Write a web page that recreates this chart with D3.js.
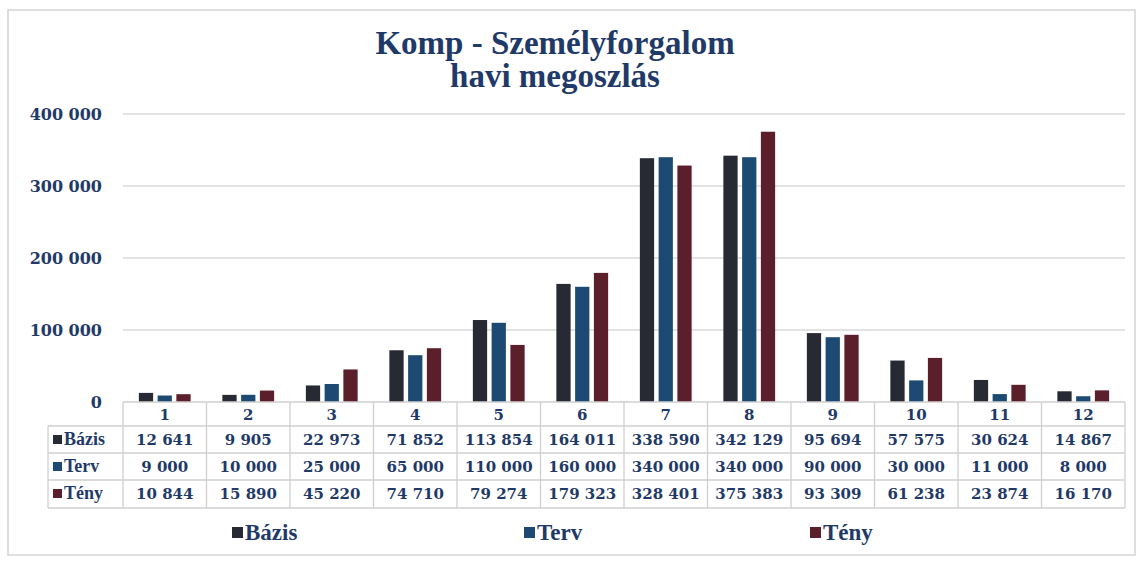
<!DOCTYPE html>
<html>
<head>
<meta charset="utf-8">
<script src="https://cdn.jsdelivr.net/npm/d3@7"></script>
<style>
  body { margin: 0; background: #fff; }
  svg text { font-family: "Liberation Serif", "Times New Roman", serif; }
  .num { font-family: "DejaVu Serif", serif !important; }
</style>
</head>
<body>
<div id="chart"></div>
<script>
const months = ['1', '2', '3', '4', '5', '6', '7', '8', '9', '10', '11', '12'];
const seriesNames = ['Bázis', 'Terv', 'Tény'];
const bazis = [12641, 9905, 22973, 71852, 113854, 164011, 338590, 342129, 95694, 57575, 30624, 14867];
const terv  = [9000, 10000, 25000, 65000, 110000, 160000, 340000, 340000, 90000, 30000, 11000, 8000];
const teny  = [10844, 15890, 45220, 74710, 79274, 179323, 328401, 375383, 93309, 61238, 23874, 16170];
const yTicks = [0, 100000, 200000, 300000, 400000];
const colors = ['#272a33', '#1d4a73', '#5b1e2b'];

const W = 1143, H = 563;
const navy = '#1f3a68';
const plot = { l: 123, r: 1125, t: 114, b: 402 };
const fmt = n => d3.format(',')(n).replace(/,/g, ' ');

const svg = d3.select('#chart').append('svg')
  .attr('width', W).attr('height', H);

// outer frame
svg.append('rect')
  .attr('x', 8).attr('y', 10).attr('width', 1127).attr('height', 545)
  .attr('fill', '#fff').attr('stroke', '#d4d4d4').attr('stroke-width', 1.5);

// title
svg.append('text').attr('x', 555).attr('y', 54).attr('text-anchor', 'middle')
  .attr('font-size', 33).attr('font-weight', 'bold').attr('fill', navy)
  .text('Komp - Személyforgalom');
svg.append('text').attr('x', 555).attr('y', 87).attr('text-anchor', 'middle')
  .attr('font-size', 33).attr('font-weight', 'bold').attr('fill', navy)
  .text('havi megoszlás');

const x = d3.scaleBand().domain(months).range([plot.l, plot.r]);
const y = d3.scaleLinear().domain([0, 400000]).range([plot.b, plot.t]);
const xs = d3.scaleBand().domain(seriesNames)
  .range([x.bandwidth() * 0.19, x.bandwidth() * 0.81]).paddingInner(0.24);

// grid
svg.append('g').selectAll('line').data(yTicks.slice(1)).join('line')
  .attr('x1', plot.l).attr('x2', plot.r)
  .attr('y1', d => y(d)).attr('y2', d => y(d))
  .attr('stroke', '#d9d9d9').attr('stroke-width', 1.3);

// y axis labels
const yAxis = svg.append('g')
  .attr('transform', `translate(${plot.l - 18},0)`)
  .call(d3.axisLeft(y).tickValues(yTicks).tickSize(0).tickFormat(fmt));
yAxis.select('.domain').remove();
yAxis.selectAll('text').attr('class', 'num')
  .attr('font-size', 16).attr('fill', navy).attr('font-weight', 600);

// bars
const data = [bazis, terv, teny];
seriesNames.forEach((s, si) => {
  svg.append('g').selectAll('rect').data(data[si]).join('rect')
    .attr('x', (d, i) => x(months[i]) + xs(s))
    .attr('width', xs.bandwidth())
    .attr('y', d => y(d))
    .attr('height', d => plot.b - y(d))
    .attr('fill', colors[si]);
});

// data table
const rowY = [402, 426, 453, 480, 508];
const labelX = 48;
const tbl = svg.append('g');
const lineColor = '#cfcfcf';
// horizontal lines
tbl.append('line').attr('x1', plot.l).attr('x2', plot.r).attr('y1', rowY[0]).attr('y2', rowY[0])
  .attr('stroke', lineColor).attr('stroke-width', 1.3);
tbl.selectAll('line.h').data(rowY.slice(1)).join('line').attr('class', 'h')
  .attr('x1', labelX).attr('x2', plot.r)
  .attr('y1', d => d).attr('y2', d => d)
  .attr('stroke', lineColor).attr('stroke-width', 1.3);
// vertical lines
const vx = months.map(m => x(m)).concat([plot.r]);
tbl.selectAll('line.v').data(vx).join('line').attr('class', 'v')
  .attr('x1', d => d).attr('x2', d => d)
  .attr('y1', rowY[0]).attr('y2', rowY[4])
  .attr('stroke', lineColor).attr('stroke-width', 1.3);
tbl.append('line').attr('x1', labelX).attr('x2', labelX)
  .attr('y1', rowY[1]).attr('y2', rowY[4])
  .attr('stroke', lineColor).attr('stroke-width', 1.3);

// month header
tbl.selectAll('text.m').data(months).join('text').attr('class', 'm num')
  .attr('x', d => x(d) + x.bandwidth() / 2).attr('y', rowY[0] + 18)
  .attr('text-anchor', 'middle').attr('font-size', 15).attr('font-weight', 600)
  .attr('fill', navy).text(d => d);

seriesNames.forEach((s, si) => {
  const cy = rowY[si + 1] + 19;
  tbl.append('rect').attr('x', labelX + 5).attr('y', cy - 10)
    .attr('width', 9).attr('height', 9).attr('fill', colors[si]);
  tbl.append('text').attr('x', labelX + 16).attr('y', cy)
    .attr('font-size', 18).attr('font-weight', 'bold').attr('fill', navy).text(s);
  tbl.selectAll(null).data(data[si]).join('text').attr('class', 'num')
    .attr('x', (d, i) => x(months[i]) + x.bandwidth() / 2).attr('y', cy)
    .attr('text-anchor', 'middle').attr('font-size', 15).attr('font-weight', 600)
    .attr('fill', navy).text(d => fmt(d));
});

// legend
const legendX = [232, 524, 810];
seriesNames.forEach((s, si) => {
  const g = svg.append('g').attr('transform', `translate(${legendX[si]},533)`);
  g.append('rect').attr('x', 0).attr('y', -6).attr('width', 11).attr('height', 11)
    .attr('fill', colors[si]);
  g.append('text').attr('x', 13).attr('y', 0).attr('dy', '0.32em')
    .attr('font-size', 23).attr('font-weight', 'bold').attr('fill', navy).text(s);
});
</script>
</body>
</html>
